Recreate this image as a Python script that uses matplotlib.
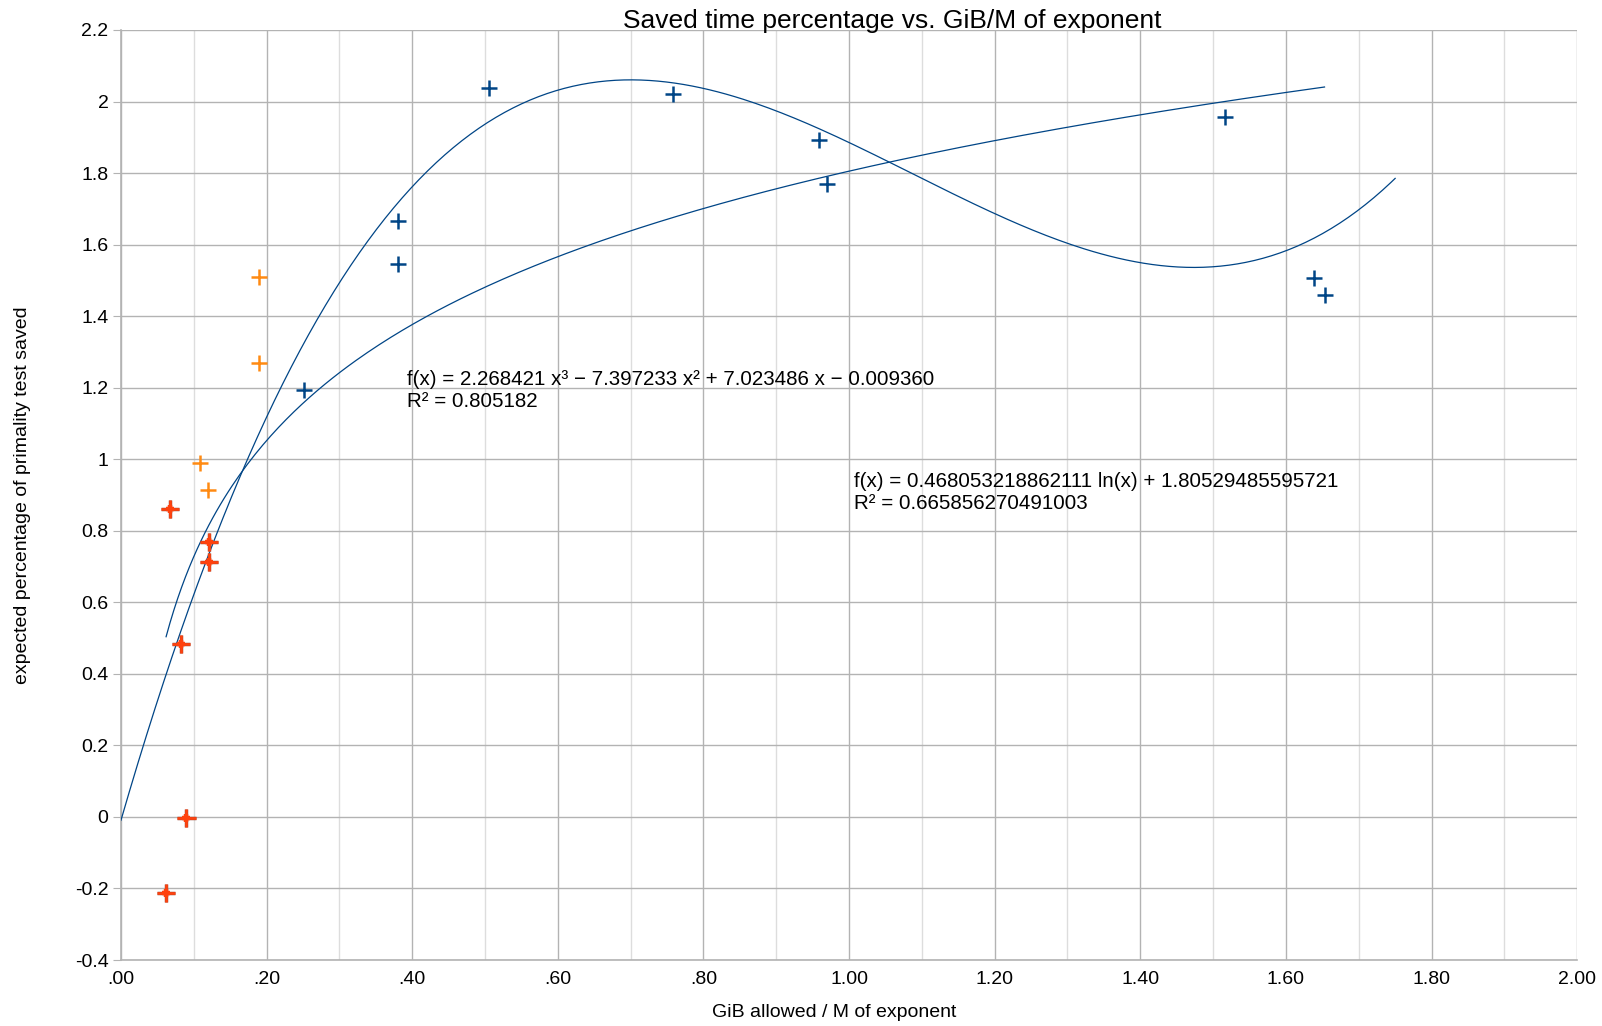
import numpy as np
import matplotlib.pyplot as plt
import matplotlib.patheffects as pe
from matplotlib.ticker import MultipleLocator, FuncFormatter

plt.rcParams['font.family'] = ['Liberation Sans', 'DejaVu Sans']

# blue series
blue_x = [0.506, 0.758, 0.959, 0.970, 0.381, 0.381, 0.251, 1.517, 1.639, 1.653]
blue_y = [2.039, 2.022, 1.891, 1.768, 1.665, 1.545, 1.193, 1.957, 1.507, 1.459]
# orange series
orange_x = [0.190, 0.190, 0.108, 0.119]
orange_y = [1.510, 1.270, 0.990, 0.915]
# red series
red_x = [0.067, 0.083, 0.121, 0.121, 0.090, 0.062]
red_y = [0.861, 0.483, 0.769, 0.712, -0.003, -0.212]

# trend lines as reported by the spreadsheet
cubic_coef = [2.268421, -7.397233, 7.023486, -0.009360]
cubic_range = (0.0, 1.75)
log_a, log_b = 0.468053218862111, 1.80529485595721
log_range = (0.062, 1.653)

eq_cubic = "f(x) = 2.268421 x³ − 7.397233 x² + 7.023486 x − 0.009360\nR² = 0.805182"
eq_log = "f(x) = 0.468053218862111 ln(x) + 1.80529485595721\nR² = 0.665856270491003"

fig = plt.figure(figsize=(16.02, 10.26), dpi=100)
ax = fig.add_axes([0.0755, 0.0643, 0.909, 0.9065])

line_c = '#004586'
xc = np.linspace(*cubic_range, 300)
ax.plot(xc, np.polyval(cubic_coef, xc), color=line_c, lw=0.9, zorder=3)
xl = np.linspace(*log_range, 300)
ax.plot(xl, log_a * np.log(xl) + log_b, color=line_c, lw=0.9, zorder=3)

ax.plot(blue_x, blue_y, ls='none', marker='+', ms=11.5, mew=1.8, color='#004586', zorder=4)
ax.plot(orange_x, orange_y, ls='none', marker='+', ms=11.5, mew=1.8, color='#ff8a12', zorder=4)
# red points: a plus with a thin dark rim and a heavier centre
ax.plot(red_x, red_y, ls='none', marker='+', ms=13, mew=1.9, color='#ff420e', zorder=4,
        path_effects=[pe.withStroke(linewidth=2.5, foreground='#9a4a3a')])
ax.plot(red_x, red_y, ls='none', marker='+', ms=6, mew=3.2, color='#ff420e', zorder=5)

ax.text(0.393, 1.250, eq_cubic, fontsize=14.8, va='top', linespacing=1.2, zorder=5)
ax.text(1.007, 0.964, eq_log, fontsize=14.8, va='top', linespacing=1.2, zorder=5)

ax.set_xlim(0, 2)
ax.set_ylim(-0.4, 2.2)
ax.xaxis.set_major_locator(MultipleLocator(0.2))
ax.xaxis.set_minor_locator(MultipleLocator(0.1))
ax.yaxis.set_major_locator(MultipleLocator(0.2))


def fmt_x(v, pos):
    s = f"{v:.2f}"
    return s[1:] if s.startswith("0") else s


def fmt_y(v, pos):
    return f"{round(v, 1):g}"


ax.xaxis.set_major_formatter(FuncFormatter(fmt_x))
ax.yaxis.set_major_formatter(FuncFormatter(fmt_y))

ax.grid(which='major', color='#b3b3b3', lw=1.0)
ax.grid(which='minor', axis='x', color='#dddddd', lw=1.0)
ax.set_axisbelow(True)
for sp in ['top', 'right']:
    ax.spines[sp].set_visible(False)
for sp in ['left', 'bottom']:
    ax.spines[sp].set_color('#b3b3b3')
    ax.spines[sp].set_linewidth(1.2)

ax.tick_params(axis='y', which='major', length=6, color='#b3b3b3', labelsize=14, pad=3)
ax.tick_params(axis='x', which='both', length=0, labelsize=14, pad=8)

fig.text(0.557, 0.980, "Saved time percentage vs. GiB/M of exponent", fontsize=19,
         ha='center', va='center')
fig.text(0.5205, 0.0127, "GiB allowed / M of exponent", fontsize=14, ha='center', va='center')
fig.text(0.014, 0.517, "expected percentage of primality test saved", fontsize=14,
         ha='center', va='center', rotation=90)

fig.savefig("out.png", dpi=100)
